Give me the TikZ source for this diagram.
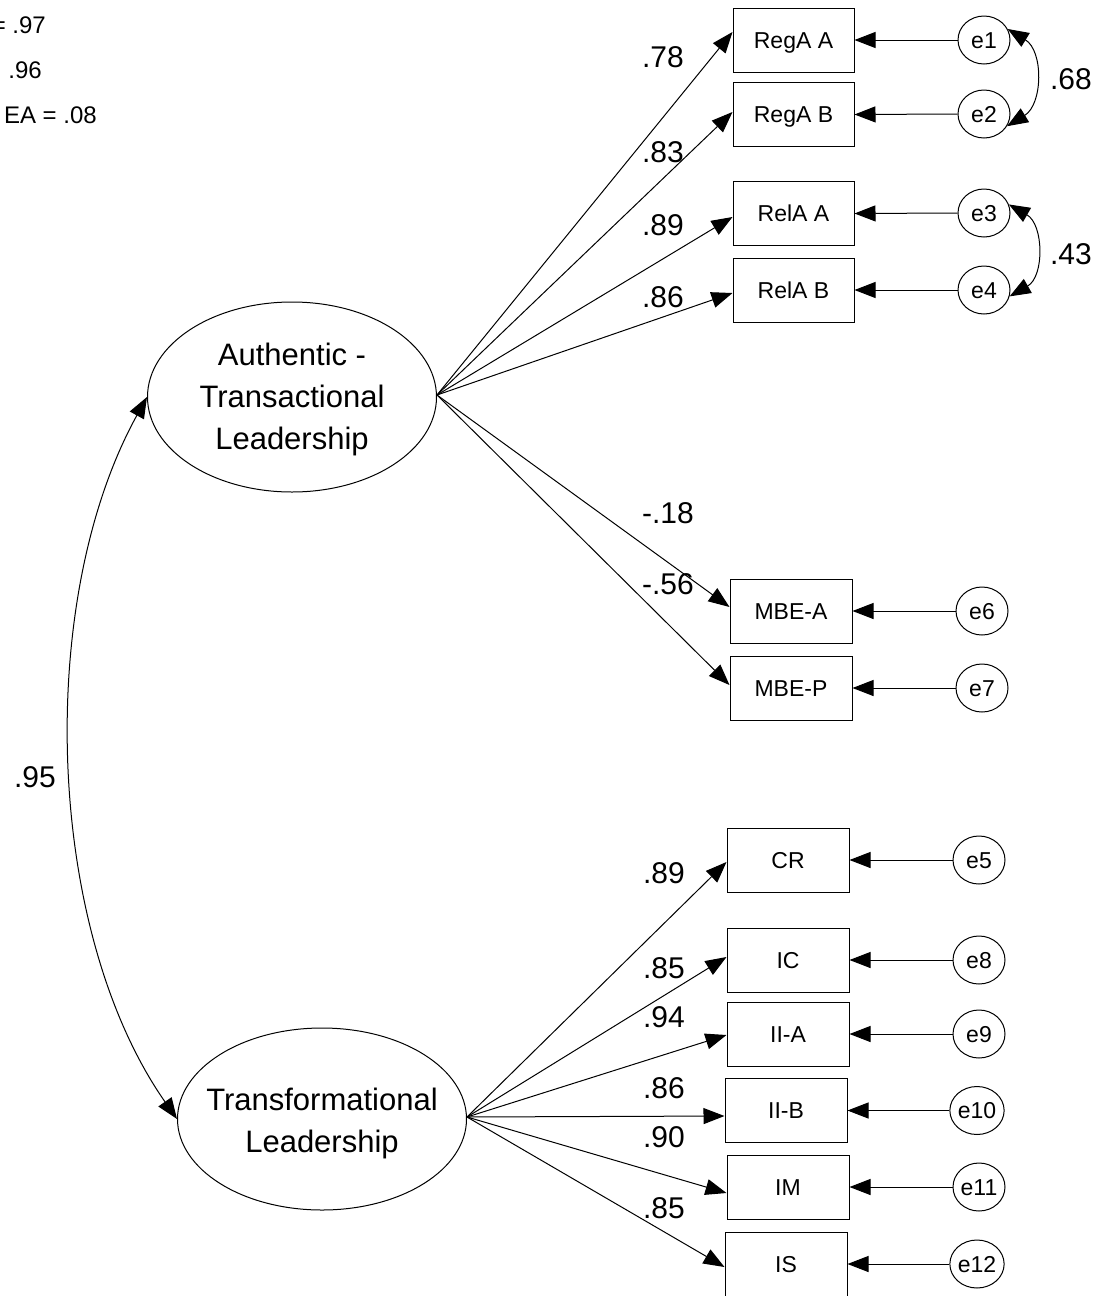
\documentclass[tikz,border=0pt]{standalone}
\usepackage{fontspec}
\setmainfont{Liberation Sans}
\usetikzlibrary{arrows.meta,shapes.geometric,calc}

\begin{document}
\begin{tikzpicture}[x=1pt,y=-1pt,
  every node/.style={inner sep=0pt},
  obs/.style={draw, line width=1pt, minimum width=121pt, minimum height=64pt,
    font=\fontsize{23}{27}\selectfont, text height=16.5pt, text depth=0pt},
  err/.style={draw, ellipse, line width=1pt, minimum width=52pt, minimum height=48pt,
    font=\fontsize{23}{27}\selectfont, text height=16.5pt, text depth=0pt},
  lat/.style={draw, ellipse, line width=1pt, minimum width=289pt, minimum height=190pt},
  lattext/.style={align=center, font=\fontsize{31}{42}\selectfont},
  coef/.style={font=\fontsize{30}{34}\selectfont, text height=21pt, text depth=0pt},
  fitidx/.style={font=\fontsize{24}{28}\selectfont, anchor=east, text height=17pt, text depth=0pt},
  load/.style={line width=1pt, -{Triangle[length=21pt,width=16pt]}},
  corr/.style={line width=1pt, {Triangle[length=21pt,width=16pt]}-{Triangle[length=21pt,width=16pt]}},
]
\useasboundingbox (0,0) rectangle (1107,1296);

% fit indices
\node[fitidx] (f1) at (46,25) {= .97};
\node[fitidx] (f2) at (42,70) {.96};
\node[fitidx] (f3) at (97,115) {EA = .08};

% latent factors
\node[lat] (A) at (292,397) {};
\node[lattext] (At) at (292,399) {Authentic -\\Transactional\\Leadership};
\node[lat, minimum height=182pt] (T) at (322,1119) {};
\node[lattext] (Tt) at (322,1123) {Transformational\\Leadership};
\coordinate (As) at (437,395);
\coordinate (Ts) at (467,1117);

% indicators
\node[obs] (RegAA) at (793.5,40) {RegA A};
\node[obs] (RegAB) at (793.5,114.5) {RegA B};
\node[obs] (RelAA) at (793.5,213.5) {RelA A};
\node[obs] (RelAB) at (793.5,290) {RelA B};
\node[obs, minimum width=122pt] (MBEA) at (791,611) {MBE-A};
\node[obs, minimum width=122pt] (MBEP) at (791,688) {MBE-P};
\node[obs, minimum width=122pt] (CR) at (788,860) {CR};
\node[obs, minimum width=122pt] (IC) at (788,960) {IC};
\node[obs, minimum width=122pt] (IIA) at (788,1034) {II-A};
\node[obs, minimum width=122pt] (IIB) at (786,1110.5) {II-B};
\node[obs, minimum width=122pt] (IM) at (788,1187) {IM};
\node[obs, minimum width=122pt] (IS) at (786,1264) {IS};

% error terms
\node[err] (e1) at (984,40) {e1};
\node[err] (e2) at (984,114) {e2};
\node[err] (e3) at (984,213) {e3};
\node[err] (e4) at (984,290) {e4};
\node[err] (e6) at (982,611) {e6};
\node[err] (e7) at (982,688) {e7};
\node[err] (e5) at (979,860) {e5};
\node[err] (e8) at (979,960) {e8};
\node[err] (e9) at (979,1034) {e9};
\node[err] (e10) at (977,1110.5) {e10};
\node[err] (e11) at (979,1187) {e11};
\node[err] (e12) at (977,1264) {e12};

% loadings
\draw[load] (As) -- ($(RegAA.west)+(0,-8)$);
\draw[load] (As) -- ($(RegAB.west)+(0,-2.5)$);
\draw[load] (As) -- ($(RelAA.west)+(0,3.5)$);
\draw[load] (As) -- ($(RelAB.west)+(0,3)$);
\draw[load] (As) -- ($(MBEA.west)+(0,-4)$);
\draw[load] (As) -- ($(MBEP.west)+(0,-3)$);
\draw[load] (Ts) -- ($(CR.west)+(0,2)$);
\draw[load] (Ts) -- ($(IC.west)+(0,-3)$);
\draw[load] (Ts) -- ($(IIA.west)+(0,1)$);
\draw[load] (Ts) -- ($(IIB.west)+(0,5.5)$);
\draw[load] (Ts) -- ($(IM.west)+(0,6)$);
\draw[load] (Ts) -- ($(IS.west)+(0,3)$);

% residual paths
\foreach \e/\b in {e1/RegAA,e2/RegAB,e3/RelAA,e4/RelAB,e6/MBEA,e7/MBEP,
                   e5/CR,e8/IC,e9/IIA,e10/IIB,e11/IM,e12/IS}
  \draw[load] (\e.west) -- (\b.east);

% covariances
\draw[corr] (e1.25) .. controls +(36,22) and +(36,-22) .. (e2.-28);
\draw[corr] (e3.19) .. controls +(35,20) and +(35,-20) .. (e4.-14);
\draw[corr] (A.west) .. controls (35,600) and (45,930) .. (T.west);

% coefficients
\node[coef] (c1) at (663,57) {.78};
\node[coef] (c2) at (663,152) {.83};
\node[coef] (c3) at (663,225) {.89};
\node[coef] (c4) at (663,297) {.86};
\node[coef] (c5) at (668,513) {-.18};
\node[coef] (c6) at (668,584) {-.56};
\node[coef] (c7) at (664,873) {.89};
\node[coef] (c8) at (664,968) {.85};
\node[coef] (c9) at (664,1017) {.94};
\node[coef] (c10) at (664,1088) {.86};
\node[coef] (c11) at (664,1137) {.90};
\node[coef] (c12) at (664,1208) {.85};
\node[coef] (r1) at (1071,79) {.68};
\node[coef] (r2) at (1071,254) {.43};
\node[coef] (r3) at (35,777) {.95};
\end{tikzpicture}
\end{document}
